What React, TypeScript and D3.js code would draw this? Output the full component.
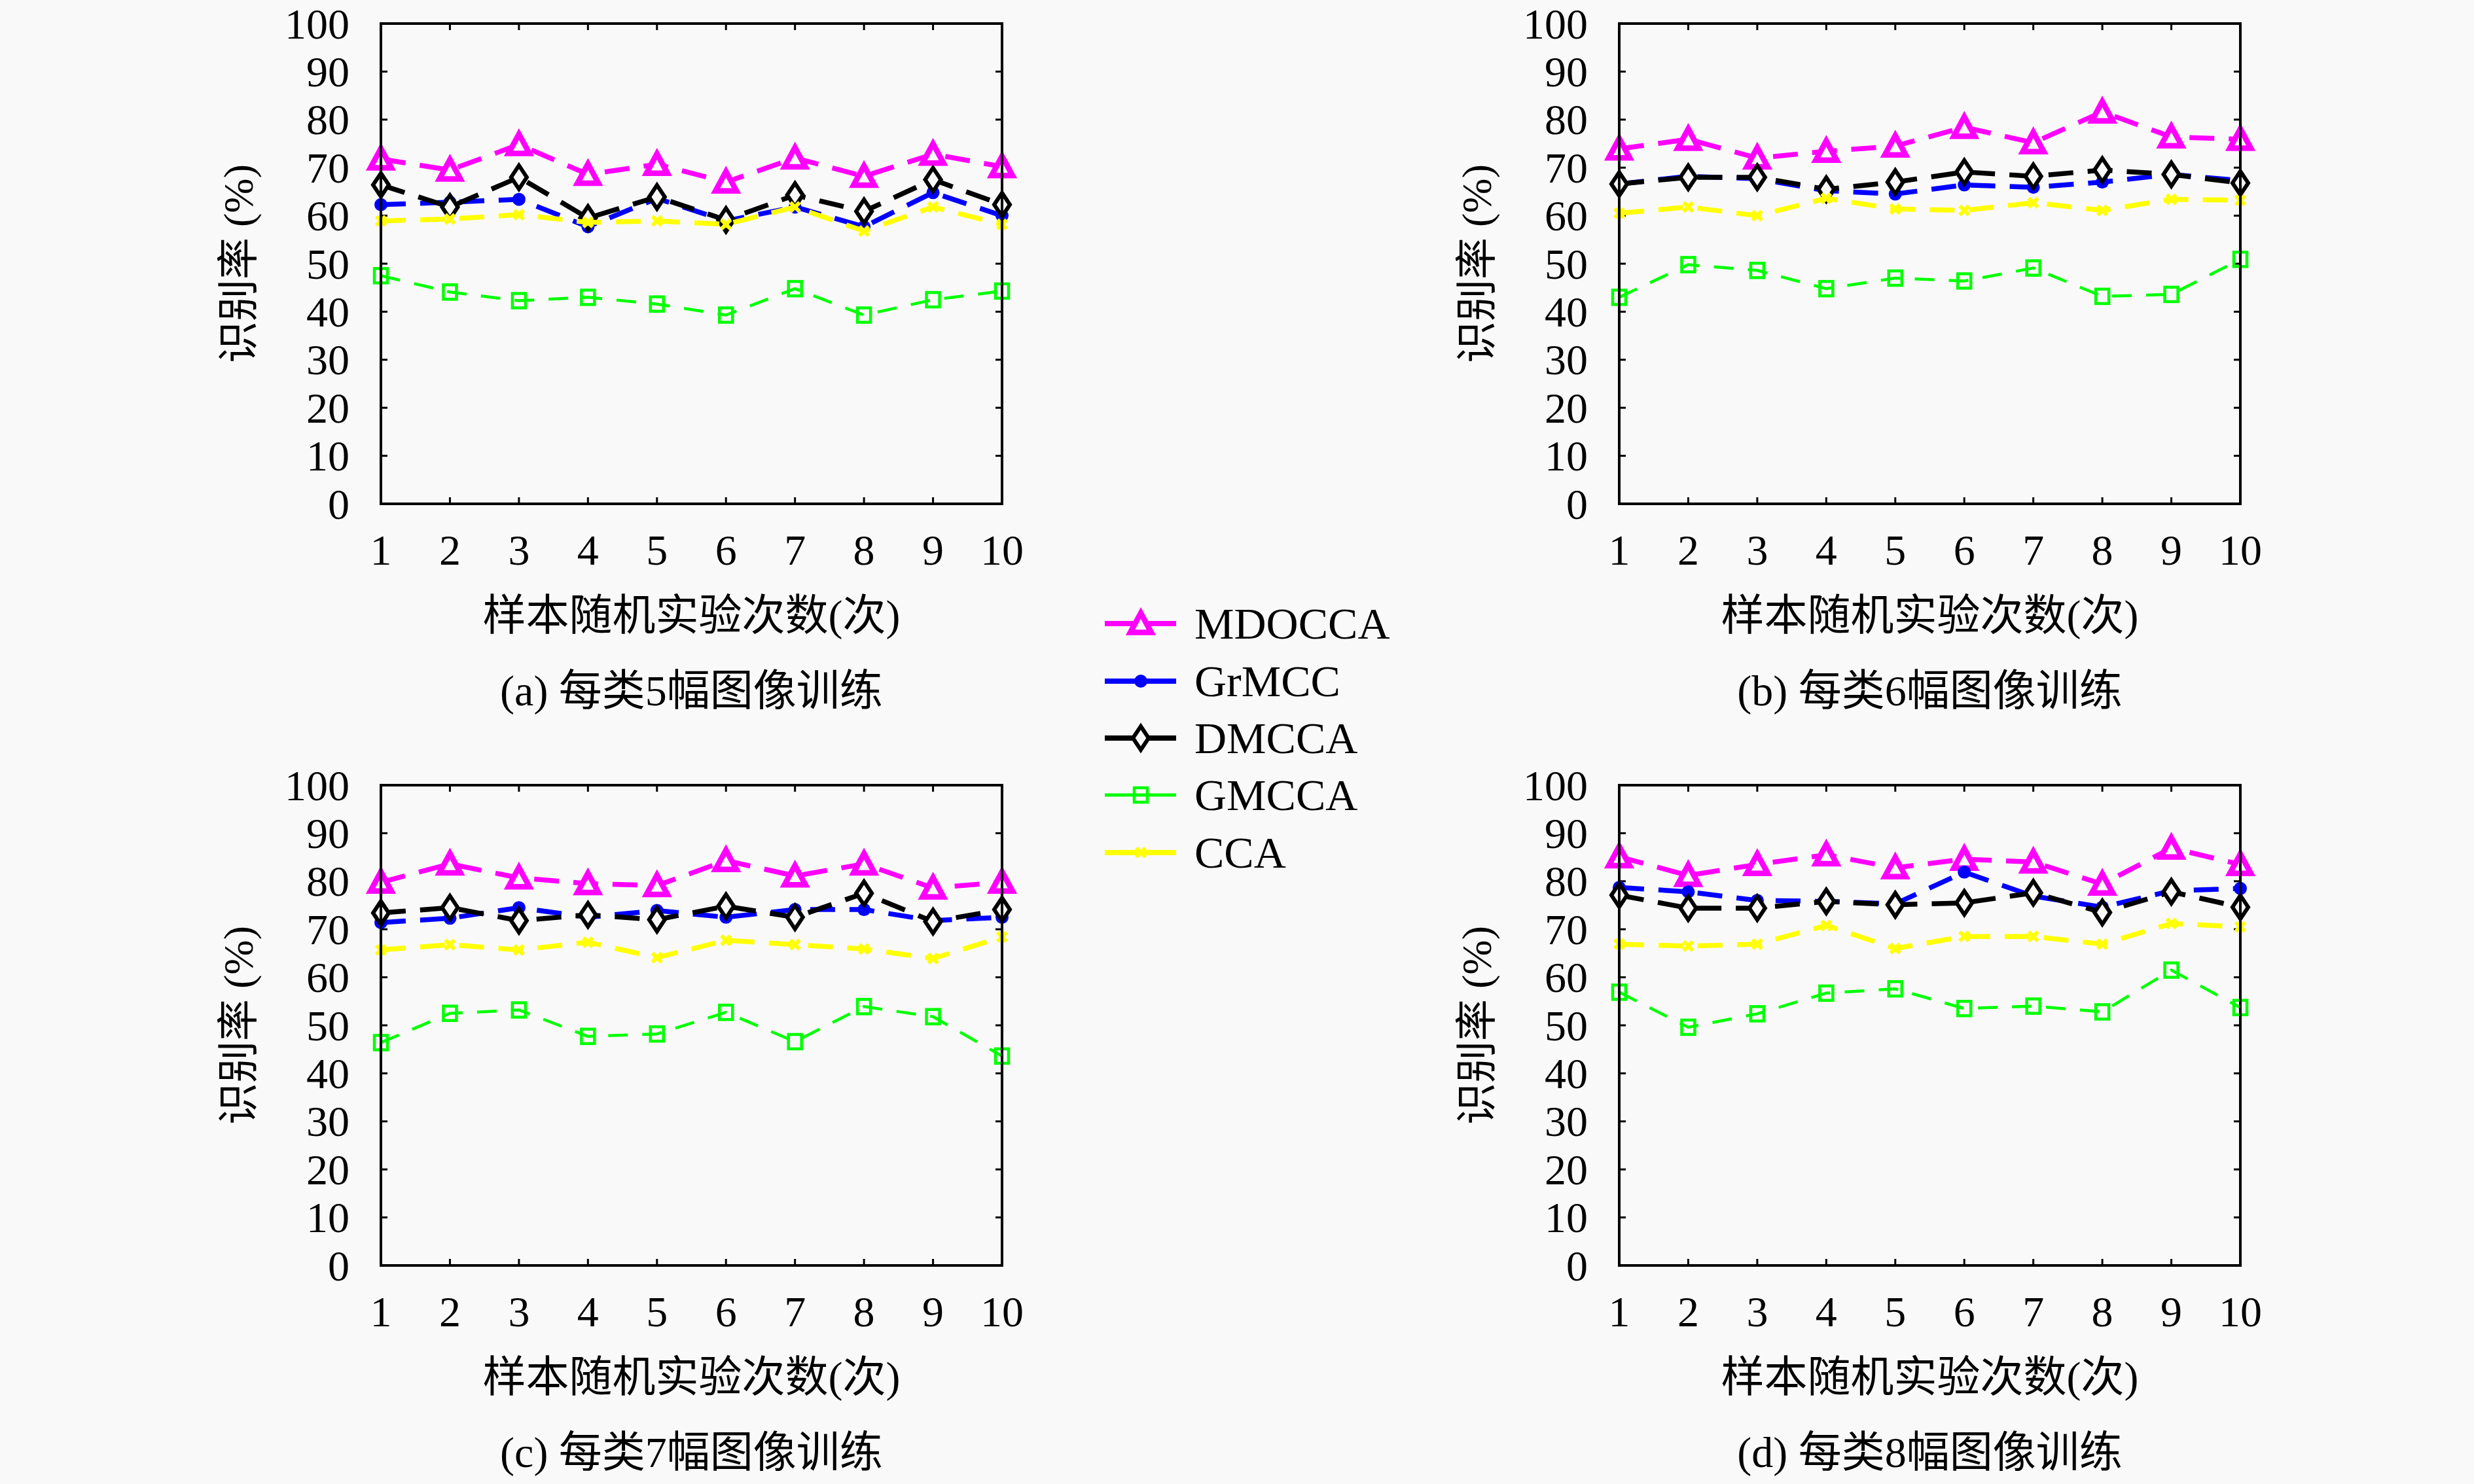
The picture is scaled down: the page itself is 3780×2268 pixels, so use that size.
import * as d3 from "d3";
import React from "react";

const W = 3780;
const H = 2268;

const runs = [1, 2, 3, 4, 5, 6, 7, 8, 9, 10];
const yTicks = [0, 10, 20, 30, 40, 50, 60, 70, 80, 90, 100];

const seriesNames = ["MDOCCA", "GrMCC", "DMCCA", "GMCCA", "CCA"];
const seriesColors = ["#ff00ff", "#0000ff", "#000000", "#00ff00", "#ffff00"];

// 每类5幅
const mdoccaA = [71.8, 69.5, 74.8, 68.6, 70.7, 67.0, 72.0, 68.2, 72.8, 70.2];
const grmccA = [62.3, 62.8, 63.4, 57.7, 63.6, 58.9, 61.8, 57.7, 64.8, 60.0];
const dmccaA = [66.4, 61.8, 68.0, 59.5, 63.9, 59.1, 64.3, 60.9, 67.5, 62.3];
const gmccaA = [47.5, 44.1, 42.3, 43.0, 41.6, 39.3, 44.8, 39.3, 42.5, 44.3];
const ccaA = [58.9, 59.3, 60.2, 58.6, 58.9, 58.2, 61.8, 56.8, 61.8, 58.2];

// 每类6幅
const mdoccaB = [73.9, 75.9, 72.0, 73.4, 74.5, 78.4, 75.2, 81.6, 76.4, 75.9];
const grmccB = [66.6, 68.2, 67.7, 65.2, 64.5, 66.4, 65.9, 67.0, 68.6, 67.3];
const dmccaB = [66.6, 68.0, 68.0, 65.5, 67.0, 69.1, 68.2, 69.5, 68.6, 66.8];
const gmccaB = [43.0, 49.8, 48.6, 44.8, 47.0, 46.4, 49.1, 43.2, 43.6, 50.9];
const ccaB = [60.5, 61.8, 60.0, 63.6, 61.4, 61.1, 62.7, 61.1, 63.4, 63.2];

// 每类7幅
const mdoccaC = [79.8, 83.6, 80.7, 79.5, 79.1, 84.3, 81.1, 83.6, 78.6, 79.8];
const grmccC = [71.4, 72.3, 74.5, 72.5, 73.9, 72.5, 74.1, 74.1, 71.8, 72.5];
const dmccaC = [73.4, 74.5, 71.8, 73.0, 72.0, 74.8, 72.5, 77.5, 71.6, 74.1];
const gmccaC = [46.4, 52.5, 53.2, 47.7, 48.2, 52.7, 46.6, 53.9, 51.8, 43.6];
const ccaC = [65.7, 66.8, 65.7, 67.3, 64.1, 67.7, 66.8, 65.9, 63.9, 68.4];

// 每类8幅
const mdoccaD = [85.1, 81.2, 83.5, 85.5, 82.8, 84.6, 84.0, 79.4, 86.9, 83.5];
const grmccD = [78.7, 77.8, 76.0, 75.8, 75.3, 81.9, 76.9, 74.6, 78.0, 78.5];
const dmccaD = [77.1, 74.4, 74.4, 75.8, 75.1, 75.5, 77.6, 73.5, 77.8, 74.6];
const gmccaD = [56.9, 49.6, 52.4, 56.7, 57.6, 53.5, 54.0, 52.8, 61.5, 53.7];
const ccaD = [66.9, 66.5, 66.9, 70.8, 66.0, 68.5, 68.5, 66.9, 71.2, 70.5];

const panelTitles = [
    "(a) 每类5幅图像训练",
    "(b) 每类6幅图像训练",
    "(c) 每类7幅图像训练",
    "(d) 每类8幅图像训练",
];
const xTitle = "样本随机实验次数(次)";
const yTitle = "识别率 (%)";

const panelData = [
    [mdoccaA, grmccA, dmccaA, gmccaA, ccaA],
    [mdoccaB, grmccB, dmccaB, gmccaB, ccaB],
    [mdoccaC, grmccC, dmccaC, gmccaC, ccaC],
    [mdoccaD, grmccD, dmccaD, gmccaD, ccaD],
];

const panelPos: Array<[number, number]> = [
    [582, 36],
    [2474, 36],
    [582, 1200],
    [2474, 1200],
];

const pw = 949;
const ph = 734;
const BG = "#f9f9f9";
const FONT = "'Liberation Serif', 'Noto Sans CJK SC', serif";

const Marker: React.FC<{ kind: number; x: number; y: number }> = ({ kind, x, y }) => {
    const c = seriesColors[kind];
    if (kind === 0) {
        const s = 16;
        return (
            <path
                d={`M${x},${y - s}L${x + s},${y + s * 0.85}L${x - s},${y + s * 0.85}Z`}
                fill={BG}
                stroke={c}
                strokeWidth={8.5}
                strokeLinejoin="miter"
            />
        );
    }
    if (kind === 1) return <circle cx={x} cy={y} r={10} fill={c} />;
    if (kind === 2) {
        return (
            <path
                d={`M${x},${y - 18}L${x + 12},${y}L${x},${y + 18}L${x - 12},${y}Z`}
                fill={BG}
                stroke={c}
                strokeWidth={6}
            />
        );
    }
    if (kind === 3) {
        return <rect x={x - 10} y={y - 11} width={20} height={22} fill="none" stroke={c} strokeWidth={4.5} />;
    }
    const s = 7;
    return (
        <path
            d={`M${x - s},${y - s}L${x + s},${y + s}M${x - s},${y + s}L${x + s},${y - s}`}
            stroke={c}
            strokeWidth={6}
        />
    );
};

const Panel: React.FC<{ idx: number }> = ({ idx }) => {
    const [x0, y0] = panelPos[idx];
    const x = d3.scaleLinear().domain([1, 10]).range([x0, x0 + pw]);
    const y = d3.scaleLinear().domain([0, 100]).range([y0 + ph, y0]);
    const line = d3
        .line<number>()
        .x((_, i) => x(runs[i]))
        .y((d) => y(d));
    const series = panelData[idx];
    const cx = x0 + pw / 2;
    const bottom = y0 + ph;

    return (
        <g>
            {/* ticks */}
            {yTicks.map((t) => (
                <g key={"y" + t}>
                    <line x1={x0} x2={x0 + 10} y1={y(t)} y2={y(t)} stroke="#000" strokeWidth={3} />
                    <line x1={x0 + pw} x2={x0 + pw - 10} y1={y(t)} y2={y(t)} stroke="#000" strokeWidth={3} />
                    <text
                        x={x0 - 48}
                        y={y(t)}
                        textAnchor="end"
                        dominantBaseline="central"
                        fontSize={66}
                        fontFamily={FONT}
                    >
                        {t}
                    </text>
                </g>
            ))}
            {runs.map((r) => (
                <g key={"x" + r}>
                    <line x1={x(r)} x2={x(r)} y1={bottom} y2={bottom - 10} stroke="#000" strokeWidth={3} />
                    <line x1={x(r)} x2={x(r)} y1={y0} y2={y0 + 10} stroke="#000" strokeWidth={3} />
                    <text
                        x={x(r)}
                        y={bottom + 70}
                        textAnchor="middle"
                        dominantBaseline="central"
                        fontSize={66}
                        fontFamily={FONT}
                    >
                        {r}
                    </text>
                </g>
            ))}
            {/* series */}
            {series.map((vals, k) => (
                <g key={"s" + k}>
                    <path
                        d={line(vals) || ""}
                        fill="none"
                        stroke={seriesColors[k]}
                        strokeWidth={k === 3 ? 4.5 : 7.5}
                        strokeDasharray={k === 3 ? "30,22" : "38,22"}
                    />
                    {vals.map((v, i) => (
                        <Marker key={i} kind={k} x={x(runs[i])} y={y(v)} />
                    ))}
                </g>
            ))}
            <rect x={x0} y={y0} width={pw} height={ph} fill="none" stroke="#000" strokeWidth={4} />
            {/* titles */}
            <text
                x={cx}
                y={bottom + 170}
                textAnchor="middle"
                dominantBaseline="central"
                fontSize={66}
                fontFamily={FONT}
            >
                {xTitle}
            </text>
            <text
                x={cx}
                y={bottom + 285}
                textAnchor="middle"
                dominantBaseline="central"
                fontSize={66}
                fontFamily={FONT}
            >
                {panelTitles[idx]}
            </text>
            <text
                transform={`translate(${x0 - 218},${y0 + ph / 2}) rotate(-90)`}
                textAnchor="middle"
                dominantBaseline="central"
                fontSize={64}
                fontFamily={FONT}
            >
                {yTitle}
            </text>
        </g>
    );
};

const legendRows = [953, 1041, 1128, 1215, 1303];

const App: React.FC = () => {
    return (
        <svg
            width={W}
            height={H}
            viewBox={`0 0 ${W} ${H}`}
            style={{ position: "absolute", left: 0, top: 0, background: BG }}
        >
            <rect width={W} height={H} fill={BG} />
            {panelPos.map((_, i) => (
                <Panel key={i} idx={i} />
            ))}
            {seriesNames.map((name, k) => (
                <g key={name}>
                    <line
                        x1={1688}
                        x2={1797}
                        y1={legendRows[k]}
                        y2={legendRows[k]}
                        stroke={seriesColors[k]}
                        strokeWidth={k === 3 ? 5 : 8}
                    />
                    <Marker kind={k} x={1743} y={legendRows[k]} />
                    <text
                        x={1825}
                        y={legendRows[k]}
                        dominantBaseline="central"
                        fontSize={68}
                        fontFamily={FONT}
                    >
                        {name}
                    </text>
                </g>
            ))}
        </svg>
    );
};

export default App;
